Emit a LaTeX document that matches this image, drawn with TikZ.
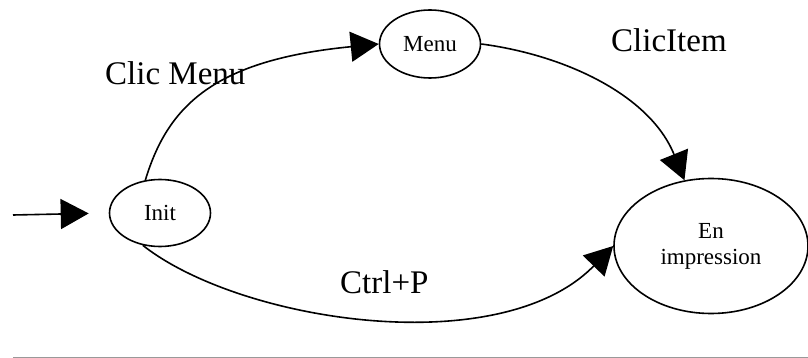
\documentclass[tikz,border=0pt]{standalone}
\usepackage{fontspec}
\setmainfont{Liberation Serif}
\usetikzlibrary{shapes.geometric,arrows.meta}
\begin{document}
\begin{tikzpicture}[x=1pt,y=-1pt,
  state/.style={draw,ellipse,line width=1.6pt,inner sep=0pt,align=center,
    font=\fontsize{23}{26}\selectfont},
  edge/.style={line width=1.6pt,-{Triangle[length=28pt,width=30pt]}},
  lbl/.style={anchor=base west,inner sep=0pt,font=\fontsize{33}{38}\selectfont}]
\useasboundingbox (0,0) rectangle (808,358);
\node[state,minimum width=101pt,minimum height=67pt] (init) at (160,213) {Init};
\node[state,minimum width=101pt,minimum height=68pt] (menu) at (430,44) {Menu};
\node[state,minimum width=194pt,minimum height=135pt] (en) at (711,246) {En\\impression};
\coordinate (start) at (13,215);
\draw[edge,shorten >=20pt] (start) -- (init.west);
\draw[edge] (init.114) .. controls (168,105) and (215,60) .. (menu.west);
\draw[edge] (menu.east) .. controls (565,55) and (650,95) .. (en.112);
\draw[edge] (init.242) .. controls (240,322) and (500,362) .. (en.west);
\node[lbl] (l1) at (105,85) {Clic Menu};
\node[lbl] (l2) at (611,52) {ClicItem};
\node[lbl] (l3) at (340,293) {Ctrl+P};
\coordinate (ba) at (13,357);
\coordinate (bb) at (808,357);
\draw[gray!80,line width=1pt] (ba) -- (bb);
\end{tikzpicture}
\end{document}
